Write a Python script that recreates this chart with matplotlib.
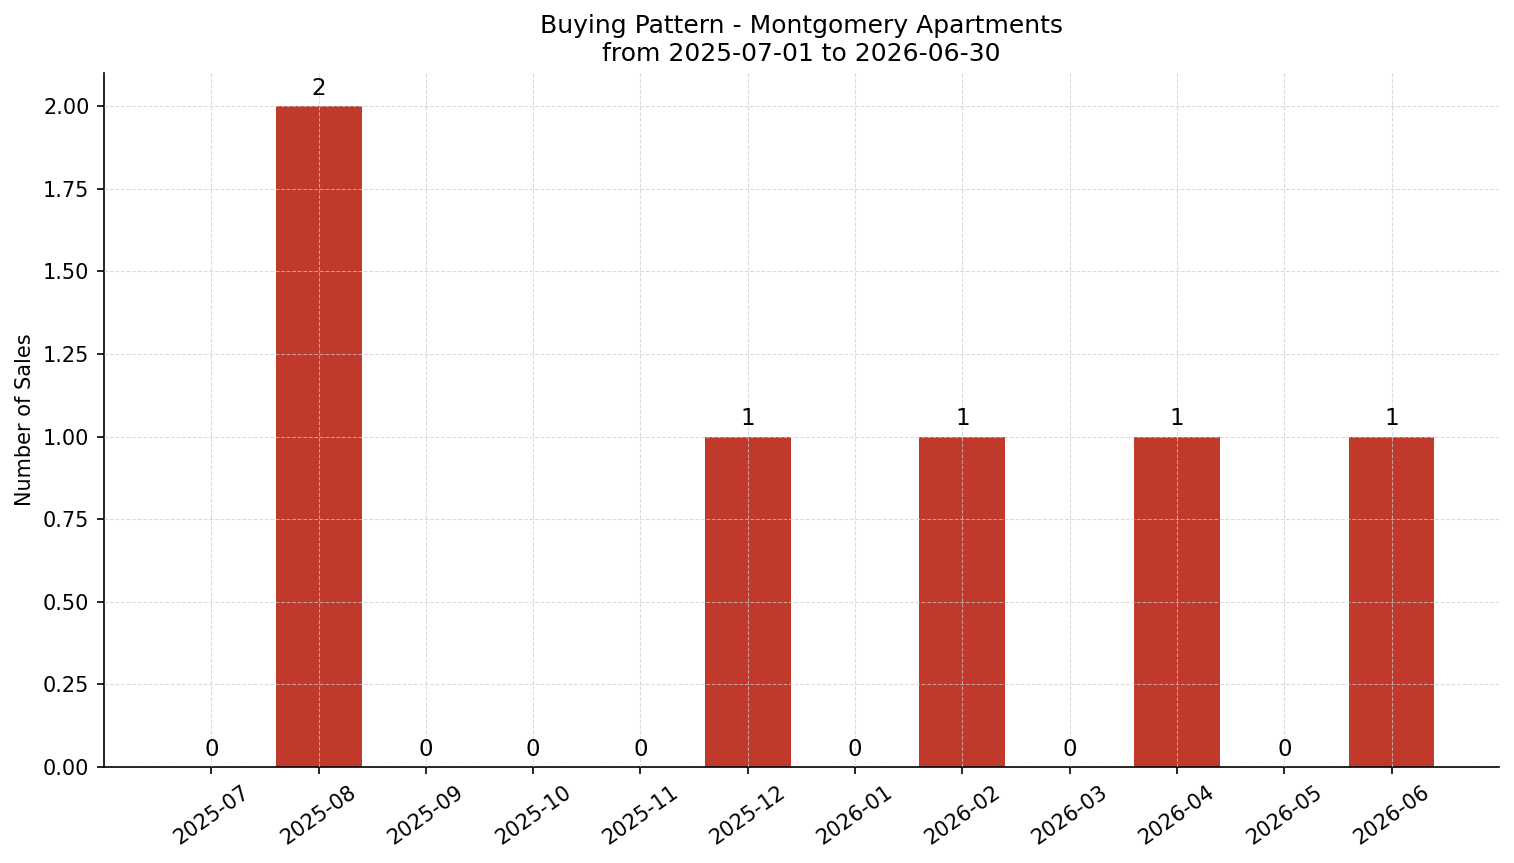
import matplotlib
matplotlib.use("Agg")
import matplotlib.pyplot as plt
from matplotlib.ticker import FormatStrFormatter

plt.rcParams['font.family'] = ['DejaVu Sans']

# данные по месяцам
months = ['2025-07', '2025-08', '2025-09', '2025-10', '2025-11', '2025-12',
          '2026-01', '2026-02', '2026-03', '2026-04', '2026-05', '2026-06']
sales = [0, 2, 0, 0, 0, 1, 0, 1, 0, 1, 0, 1]

fig, ax = plt.subplots(figsize=(1514 / 150, 863 / 150), dpi=150)
x = list(range(len(months)))
ax.bar(x, sales, width=0.8, color='#c0392b', zorder=1)

# подписи над столбцами
for xi, v in zip(x, sales):
    ax.annotate(str(v), (xi, v), xytext=(0, 3), textcoords='offset points',
                ha='center', va='bottom', fontsize=11)

ax.set_xticks(x)
ax.set_xticklabels(months, rotation=35, ha='center', fontsize=10)
ax.tick_params(axis='y', labelsize=10)
ax.set_xlim(-1, 12)
ax.set_ylim(0, 2.1)
ax.set_yticks([0, 0.25, 0.5, 0.75, 1.0, 1.25, 1.5, 1.75, 2.0])
ax.yaxis.set_major_formatter(FormatStrFormatter('%.2f'))
ax.set_ylabel('Number of Sales', fontsize=10)
ax.set_title('Buying Pattern - Montgomery Apartments\nfrom 2025-07-01 to 2026-06-30', fontsize=12)
ax.grid(True, linestyle='--', color='#cccccc', linewidth=0.5, alpha=0.7, zorder=2)
ax.set_axisbelow(False)
ax.spines['top'].set_visible(False)
ax.spines['right'].set_visible(False)

fig.subplots_adjust(left=0.0687, right=0.990, top=0.9154, bottom=0.1112)
fig.savefig('out.png', dpi=150)
